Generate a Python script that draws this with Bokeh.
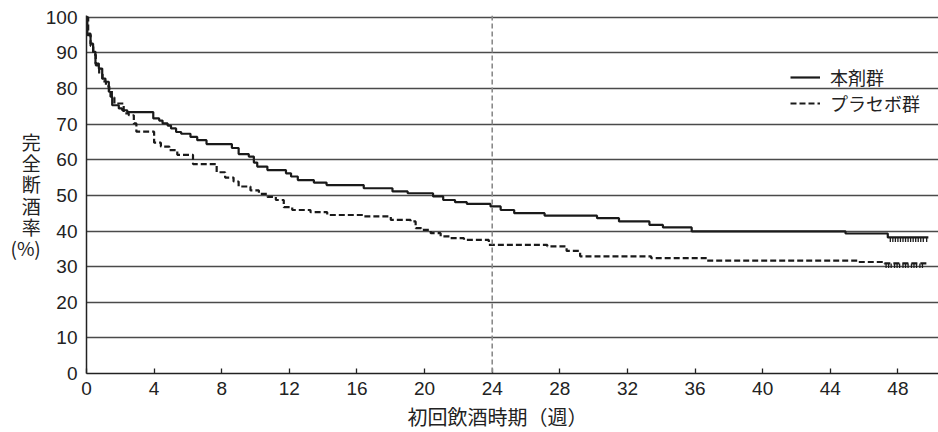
from bokeh.plotting import figure
from bokeh.models import Range1d, FixedTicker, Legend, LegendItem, Span, Title
from bokeh.embed import file_html
from bokeh.resources import INLINE

# ---- data ----
drug_t = [0, 0.05, 0.24, 0.39, 0.53, 0.73, 0.93, 1.12, 1.32, 1.42, 1.52, 1.91, 2.11, 2.41,
          3.95, 4.3, 4.5, 4.8, 5.0, 5.3, 5.6, 6.15, 6.55, 7.1, 8.6, 9.0, 9.6, 9.9, 10.1,
          10.7, 11.8, 12.1, 12.5, 13.45, 14.2, 16.4, 18.1, 19.0, 20.5, 21.1, 21.8, 22.5,
          23.9, 24.5, 25.3, 27.1, 30.2, 31.5, 33.3, 34.1, 35.8, 44.9, 47.4, 49.8]
drug_s = [100, 95.0, 92.6, 90.3, 87.0, 85.6, 82.8, 81.9, 79.1, 77.7, 75.3, 74.4, 73.9, 73.4,
          71.6, 71.0, 70.2, 69.6, 68.8, 67.8, 67.3, 66.4, 65.5, 64.4, 63.3, 61.6, 60.9, 59.2,
          58.1, 57.1, 56.2, 55.3, 54.3, 53.6, 52.9, 52.0, 51.1, 50.6, 49.7, 48.7, 48.1, 47.6,
          46.9, 45.9, 45.0, 44.3, 43.6, 42.7, 41.7, 41.0, 39.9, 39.3, 38.2, 38.2]

plac_t = [0, 0.1, 0.24, 0.4, 0.55, 0.75, 0.95, 1.15, 1.35, 1.5, 1.65, 2.2, 2.5, 2.8, 2.95,
          4.0, 4.4, 4.9, 5.37, 6.3, 7.7, 8.2, 8.7, 9.0, 9.7, 10.2, 10.7, 11.2, 11.67, 12.17,
          13.25, 14.24, 16.4, 18.0, 19.17, 19.47, 19.8, 20.36, 20.95, 21.54, 22.33, 23.8,
          27.26, 28.4, 29.2, 33.4, 36.7, 45.6, 47.2, 49.7]
plac_s = [100, 95.4, 92.0, 89.5, 86.5, 84.0, 82.0, 80.6, 79.6, 77.5, 75.8, 73.0, 72.5, 70.2, 67.9,
          64.8, 63.7, 62.7, 61.4, 58.8, 56.5, 55.0, 53.9, 52.5, 51.4, 50.4, 49.6, 48.7, 46.7, 45.9,
          45.3, 44.5, 44.1, 43.1, 42.7, 40.8, 40.3, 39.4, 38.5, 38.0, 37.5, 36.1,
          35.7, 34.4, 32.9, 32.4, 31.7, 31.3, 30.9, 30.9]

drug_cens = [47.55, 47.7, 47.85, 48.0, 48.15, 48.3, 48.45, 48.6, 48.75, 48.9, 49.05, 49.2,
             49.35, 49.5, 49.7]
plac_cens = [47.3, 47.45, 47.6, 47.8, 47.95, 48.1, 48.3, 48.45, 48.6, 48.8, 48.95, 49.1,
             49.3, 49.45]

x_ticks = [0, 4, 8, 12, 16, 20, 24, 28, 32, 36, 40, 44, 48]
y_ticks = [0, 10, 20, 30, 40, 50, 60, 70, 80, 90, 100]
week_mark = 24
series_names = ["本剤群", "プラセボ群"]
ylab = "完\n全\n断\n酒\n率\n(%)"
xlab = "初回飲酒時期（週）"

JP = "Noto Sans CJK JP"
NUM = "Liberation Sans"
INK = "#1a1a1a"

p = figure(width=938, height=432, output_backend="svg", toolbar_location=None,
           x_range=Range1d(0, 50.4), y_range=Range1d(0, 100.5),
           min_border_left=86, min_border_right=0, min_border_top=15, min_border_bottom=10)
p.outline_line_color = None
p.background_fill_color = "white"

# grid
p.xgrid.visible = False
p.ygrid.ticker = FixedTicker(ticks=y_ticks)
p.ygrid.grid_line_color = "#4a4a4a"
p.ygrid.grid_line_width = 1.3

# axes
for ax in (p.xaxis, p.yaxis):
    ax.axis_line_color = "#222222"
    ax.axis_line_width = 1.5
    ax.major_tick_line_color = "#222222"
    ax.major_tick_line_width = 1.3
    ax.minor_tick_line_color = None
    ax.major_label_text_font = NUM
    ax.major_label_text_font_size = "19px"
    ax.major_label_text_color = "#222222"

p.xaxis.ticker = FixedTicker(ticks=x_ticks)
p.xaxis.major_tick_in = 5
p.xaxis.major_tick_out = 0
p.xaxis.major_label_standoff = 8

p.yaxis.ticker = FixedTicker(ticks=y_ticks)
p.yaxis.major_tick_in = 0
p.yaxis.major_tick_out = 0
p.yaxis.major_label_standoff = 9
p.yaxis.axis_label = ylab
p.yaxis.axis_label_orientation = "horizontal"
p.yaxis.axis_label_text_font = JP
p.yaxis.axis_label_text_font_size = "19px"
p.yaxis.axis_label_text_font_style = "normal"
p.yaxis.axis_label_text_color = "#222222"
p.yaxis.axis_label_text_line_height = 0.78
p.yaxis.axis_label_standoff = 2

# x-axis title, centred under week 24
xt = Title(text=xlab, align="left", offset=321, text_font=JP, text_font_size="20px",
           text_font_style="normal", text_color="#222222", standoff=4,
           text_line_height=0.75)
p.add_layout(xt, "below")

# 24-week marker
p.add_layout(Span(location=week_mark, dimension="height", line_color="#8a8a8a",
                  line_dash="5 3", line_width=1.6))

# curves
r1 = p.step(drug_t, drug_s, mode="after", line_color=INK, line_width=2.2)
r2 = p.step(plac_t, plac_s, mode="after", line_color=INK, line_width=2.2, line_dash="6 3")

# censor marks
def last_val(ts, ss, t):
    v = ss[0]
    for a, b in zip(ts, ss):
        if a <= t:
            v = b
    return v

dc_y = [last_val(drug_t, drug_s, t) for t in drug_cens]
pc_y = [last_val(plac_t, plac_s, t) for t in plac_cens]
p.segment(x0=drug_cens, y0=dc_y, x1=drug_cens, y1=[v - 1.3 for v in dc_y],
          line_color=INK, line_width=1.3)
p.segment(x0=plac_cens, y0=pc_y, x1=plac_cens, y1=[v - 1.3 for v in pc_y],
          line_color=INK, line_width=1.3)

# legend
legend = Legend(items=[LegendItem(label=series_names[0], renderers=[r1]),
                       LegendItem(label=series_names[1], renderers=[r2])],
                location=(704, 257))
legend.border_line_color = None
legend.background_fill_alpha = 0
legend.padding = 0
legend.margin = 0
legend.glyph_width = 30
legend.glyph_height = 20
legend.label_height = 20
legend.spacing = 0
legend.label_standoff = 10
legend.label_text_font = JP
legend.label_text_font_size = "18px"
legend.label_text_line_height = 0.85
legend.label_text_color = "#222222"
p.add_layout(legend)

open("out.html", "w").write(file_html(p, INLINE))
